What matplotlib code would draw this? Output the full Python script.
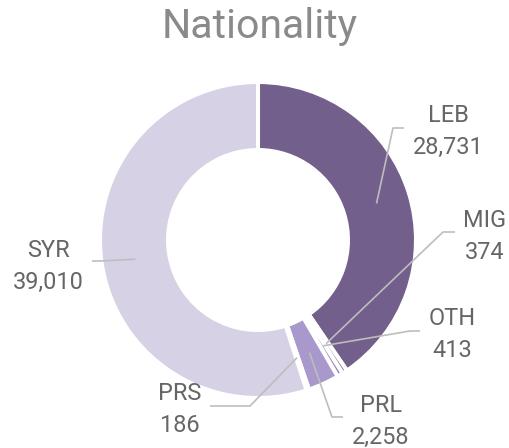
import numpy as np
import matplotlib
matplotlib.use("Agg")
import matplotlib.pyplot as plt

# ---- data ----
categories = ["LEB", "MIG", "OTH", "PRL", "PRS", "SYR"]
values = [28731, 374, 413, 2258, 186, 39010]
value_labels = ["28,731", "374", "413", "2,258", "186", "39,010"]
colors = ["#735f8c", "#8b79ab", "#9887bd", "#a898cb", "#bcb0d8", "#d7d1e5"]
title = "Nationality"

# ---- layout (pixel coordinates, y measured from top) ----
W, H = 510, 448
def py(y):
    return H - y

center = (258, py(240))
R_OUT, RING = 158, 68

# label: (center x, baseline of first line), elbow point, end of horizontal segment
label_layout = {
    "LEB": ((448, 122), (393, 128), (404, 128)),
    "MIG": ((485, 227), (443, 232), (455, 232)),
    "OTH": ((452, 325), (410, 331), (420, 331)),
    "PRL": ((381, 412), (332, 417), (343, 417)),
    "PRS": ((180, 400), (250, 406), (210, 406)),
    "SYR": ((48, 257), (100, 261), (92, 261)),
}
LINE_GAP = 32

plt.rcParams['font.family'] = ['Roboto', 'DejaVu Sans']

fig = plt.figure(figsize=(W / 100, H / 100), dpi=100)
ax = fig.add_axes([0, 0, 1, 1])

wedges, _ = ax.pie(values, colors=colors, startangle=90, counterclock=False,
                   radius=R_OUT, center=center,
                   wedgeprops=dict(width=RING, edgecolor="white", linewidth=2.9))
ax.set_xlim(0, W)
ax.set_ylim(0, H)
ax.set_aspect("equal")
ax.axis("off")

r_mid = R_OUT - RING / 2
for w, cat, vl in zip(wedges, categories, value_labels):
    ang = np.deg2rad((w.theta1 + w.theta2) / 2)
    axp = center[0] + r_mid * np.cos(ang)
    ayp = center[1] + r_mid * np.sin(ang)
    (tx, tb), (ex, ey), (hx, hy) = label_layout[cat]
    ax.plot([axp, ex, hx], [ayp, py(ey), py(hy)], color="#bdbdbd", lw=1.2,
            solid_capstyle="butt", zorder=5)
    ax.text(tx, py(tb), cat, ha="center", va="baseline", fontsize=16.9, color="#666666")
    ax.text(tx, py(tb + LINE_GAP), vl, ha="center", va="baseline", fontsize=16.9, color="#666666")

ax.text(260, py(38), title, ha="center", va="baseline", fontsize=29.5, color="#8a8a8a")

fig.savefig("out.png", dpi=100)
